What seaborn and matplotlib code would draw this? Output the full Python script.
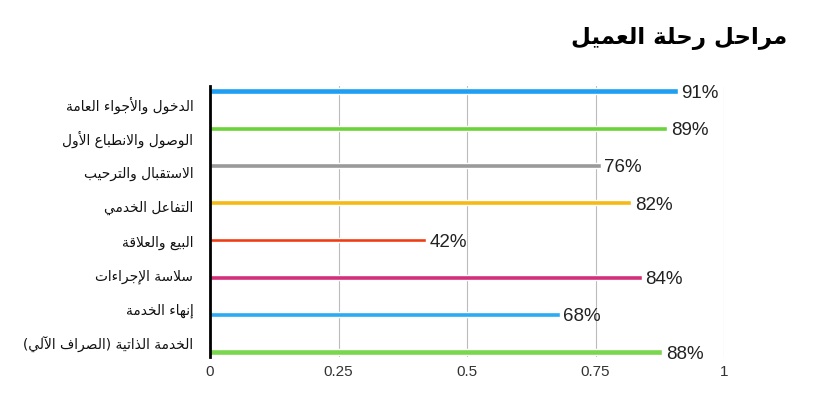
import matplotlib
matplotlib.use("Agg")
import matplotlib.pyplot as plt
import seaborn as sns
import pandas as pd

# ---------------- data ----------------
stages = [
    "الدخول والأجواء العامة",
    "الوصول والانطباع الأول",
    "الاستقبال والترحيب",
    "التفاعل الخدمي",
    "البيع والعلاقة",
    "سلاسة الإجراءات",
    "إنهاء الخدمة",
    "الخدمة الذاتية (الصراف الآلي)",
]
scores = [0.91, 0.89, 0.76, 0.82, 0.42, 0.84, 0.68, 0.88]
value_labels = ["91%", "89%", "76%", "82%", "42%", "84%", "68%", "88%"]
colors = ["#1e9ff2", "#6ad43a", "#9a9a9a", "#f5bb14", "#f03c12", "#d4307a", "#2aabf2", "#7ad64e"]
x_ticks = [0, 0.25, 0.5, 0.75, 1]
x_tick_labels = ["0", "0.25", "0.5", "0.75", "1"]
title = "مراحل رحلة العميل"

# ------------- Arabic shaping (presentation forms + visual order) -------------
_FORMS = {
    'ء': (0xFE80, 1), 'آ': (0xFE81, 2), 'أ': (0xFE83, 2), 'ؤ': (0xFE85, 2), 'إ': (0xFE87, 2),
    'ئ': (0xFE89, 4), 'ا': (0xFE8D, 2), 'ب': (0xFE8F, 4), 'ة': (0xFE93, 2), 'ت': (0xFE95, 4),
    'ث': (0xFE99, 4), 'ج': (0xFE9D, 4), 'ح': (0xFEA1, 4), 'خ': (0xFEA5, 4), 'د': (0xFEA9, 2),
    'ذ': (0xFEAB, 2), 'ر': (0xFEAD, 2), 'ز': (0xFEAF, 2), 'س': (0xFEB1, 4), 'ش': (0xFEB5, 4),
    'ص': (0xFEB9, 4), 'ض': (0xFEBD, 4), 'ط': (0xFEC1, 4), 'ظ': (0xFEC5, 4), 'ع': (0xFEC9, 4),
    'غ': (0xFECD, 4), 'ف': (0xFED1, 4), 'ق': (0xFED5, 4), 'ك': (0xFED9, 4), 'ل': (0xFEDD, 4),
    'م': (0xFEE1, 4), 'ن': (0xFEE5, 4), 'ه': (0xFEE9, 4), 'و': (0xFEED, 2), 'ى': (0xFEEF, 2),
    'ي': (0xFEF1, 4),
}
_LAM_ALEF = {'آ': 0xFEF5, 'أ': 0xFEF7, 'إ': 0xFEF9, 'ا': 0xFEFB}


def shape(text):
    try:
        import arabic_reshaper
        from bidi.algorithm import get_display
        return get_display(arabic_reshaper.reshape(text))
    except Exception:
        pass
    tokens = []
    i = 0
    while i < len(text):
        c = text[i]
        if c == 'ل' and i + 1 < len(text) and text[i + 1] in _LAM_ALEF:
            tokens.append(('LA', text[i + 1]))
            i += 2
        else:
            tokens.append(('C', c))
            i += 1

    def joins_next(tok):
        if tok[0] == 'LA':
            return False
        f = _FORMS.get(tok[1])
        return f is not None and f[1] == 4

    def joinable(tok):
        return tok[0] == 'LA' or (tok[1] in _FORMS and _FORMS[tok[1]][1] > 1)

    out = []
    for k, tok in enumerate(tokens):
        prev = tokens[k - 1] if k > 0 else None
        nxt = tokens[k + 1] if k + 1 < len(tokens) else None
        jp = prev is not None and joins_next(prev)
        if tok[0] == 'LA':
            out.append(chr(_LAM_ALEF[tok[1]] + (1 if jp else 0)))
            continue
        c = tok[1]
        if c not in _FORMS:
            out.append(c)
            continue
        base, n = _FORMS[c]
        if n == 1:
            out.append(chr(base))
        elif n == 2:
            out.append(chr(base + (1 if jp else 0)))
        else:
            jn = nxt is not None and joinable(nxt)
            off = 3 if (jp and jn) else 1 if jp else 2 if jn else 0
            out.append(chr(base + off))
    s = ''.join(out)[::-1]
    return s.translate(str.maketrans('()', ')('))


# ---------------- plot ----------------
sns.set_style("white")
plt.rcParams['font.family'] = ['DejaVu Sans']

df = pd.DataFrame({"stage": stages, "score": scores})

fig = plt.figure(figsize=(8.4, 4.2), dpi=100)
ax = fig.add_axes([210 / 840, 1 - 357 / 420, (724 - 210) / 840, (357 - 86) / 420])

sns.barplot(data=df, x="score", y="stage", hue="stage", palette=colors,
            orient="h", width=0.14, legend=False, ax=ax, saturation=1)

# slightly thinner bars for gray and red
for idx in (2, 4):
    p = ax.patches[idx]
    cy = p.get_y() + p.get_height() / 2
    p.set_height(0.115)
    p.set_y(cy - 0.0575)

ax.set_xlim(0, 1)
ax.set_ylim(7.134, -0.134)

ax.set_xticks(x_ticks, labels=x_tick_labels)
label_pos = [0.35 + 0.917 * i for i in range(len(stages))]
ax.set_yticks(label_pos, labels=[shape(s) for s in stages])
ax.tick_params(axis='y', length=0, pad=12, labelsize=9.9, labelcolor="#111111")
ax.tick_params(axis='x', length=0, pad=6, labelsize=11, labelcolor="#333333")
for t in ax.get_xticklabels():
    t.set_fontfamily("Liberation Sans")

ax.set_xlabel("")
ax.set_ylabel("")
ax.grid(axis='x', color="#bbbbbb", linewidth=0.8)
ax.grid(axis='y', visible=False)
ax.set_axisbelow(True)
for side in ("top", "right", "bottom"):
    ax.spines[side].set_visible(False)
ax.spines["left"].set_color("black")
ax.spines["left"].set_linewidth(2)
ax.spines["left"].set_zorder(5)

for i, (v, lab) in enumerate(zip(scores, value_labels)):
    ax.text(v + 0.007, i + 0.06, lab, ha="left", va="center", fontsize=13.5,
            color="#222222", family="Liberation Sans", clip_on=False)

fig.text(787 / 840, 1 - 38 / 420, shape(title), ha="right", va="center",
         fontsize=16.5, fontweight="bold", color="black")

fig.savefig("out.png", dpi=100)
